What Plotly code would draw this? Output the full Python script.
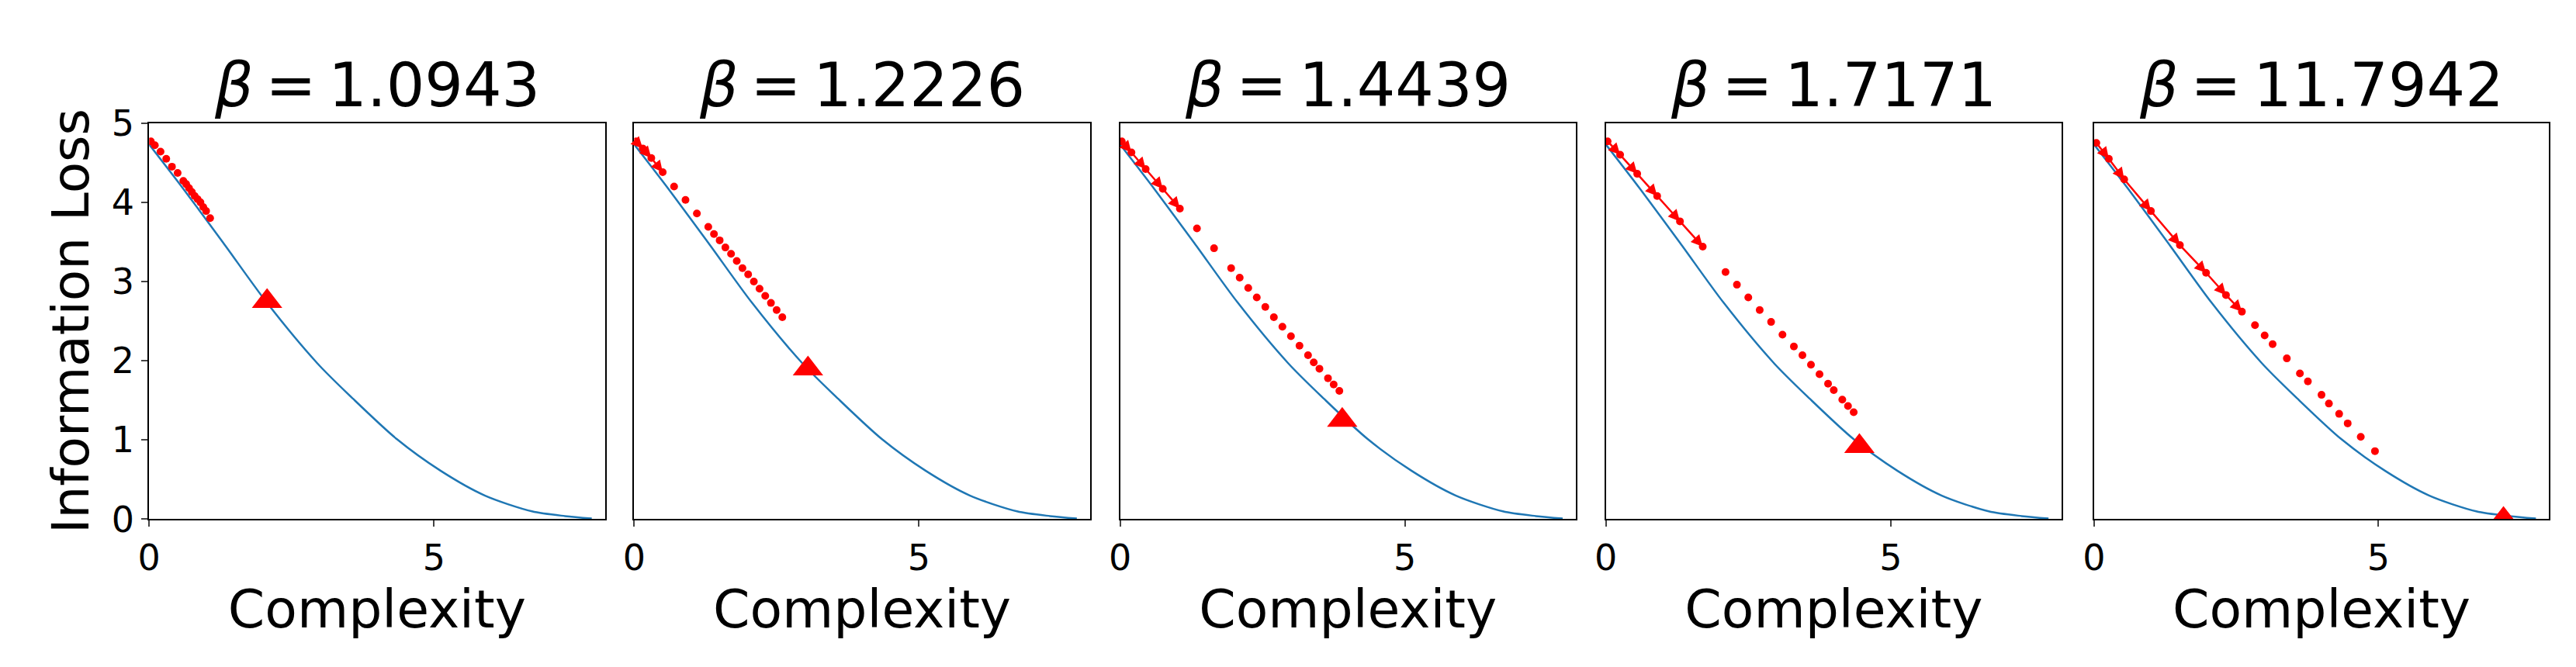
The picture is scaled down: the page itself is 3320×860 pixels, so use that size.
import plotly.graph_objects as go

betas = ["1.0943", "1.2226", "1.4439", "1.7171", "11.7942"]
curve_x = [0.0, 0.6, 1.3, 2.07, 2.95, 3.58, 4.35, 5.12, 5.89, 6.72, 7.3, 7.77]
curve_y = [4.73, 4.17, 3.49, 2.73, 1.97, 1.52, 1.01, 0.61, 0.30, 0.10, 0.04, 0.01]
tri_x = [2.07, 3.05, 3.9, 4.45, 7.2]
tri_y = [2.75, 1.9, 1.25, 0.92, 0.05]
tri_size = [34, 34, 34, 34, 24]
traj_x = [
    [0.03, 0.1, 0.2, 0.3, 0.4, 0.5, 0.6, 0.65, 0.7, 0.75, 0.8, 0.85, 0.9, 0.95, 1.0, 1.07],
    [0.03, 0.15, 0.3, 0.5, 0.7, 0.9, 1.1, 1.3, 1.4, 1.5, 1.6, 1.7, 1.8, 1.9, 2.0, 2.1, 2.2, 2.3, 2.4, 2.5, 2.6],
    [0.03, 0.2, 0.45, 0.75, 1.05, 1.35, 1.65, 1.95, 2.1, 2.25, 2.4, 2.55, 2.7, 2.85, 3.0, 3.15, 3.3, 3.4, 3.5, 3.65, 3.75, 3.85],
    [0.03, 0.25, 0.55, 0.9, 1.3, 1.7, 2.1, 2.3, 2.5, 2.7, 2.9, 3.1, 3.3, 3.45, 3.6, 3.75, 3.9, 4.0, 4.15, 4.25, 4.35],
    [0.04, 0.26, 0.53, 1.0, 1.51, 1.97, 2.32, 2.6, 2.83, 3.0, 3.14, 3.39, 3.62, 3.76, 4.0, 4.13, 4.31, 4.46, 4.69, 4.94],
]
traj_y = [
    [4.77, 4.72, 4.64, 4.55, 4.45, 4.37, 4.27, 4.23, 4.18, 4.13, 4.08, 4.04, 4.0, 3.94, 3.89, 3.8],
    [4.77, 4.68, 4.56, 4.38, 4.2, 4.03, 3.86, 3.69, 3.6, 3.52, 3.43, 3.35, 3.26, 3.17, 3.09, 3.0, 2.91, 2.82, 2.73, 2.64, 2.55],
    [4.77, 4.63, 4.42, 4.17, 3.92, 3.67, 3.42, 3.17, 3.05, 2.92, 2.8, 2.68, 2.55, 2.43, 2.31, 2.19, 2.07, 1.98, 1.9, 1.78, 1.7, 1.62],
    [4.77, 4.6, 4.36, 4.08, 3.76, 3.44, 3.12, 2.96, 2.8, 2.64, 2.49, 2.33, 2.18, 2.07, 1.95, 1.83, 1.71, 1.63, 1.51, 1.43, 1.35],
    [4.75, 4.55, 4.29, 3.89, 3.46, 3.11, 2.83, 2.62, 2.45, 2.32, 2.21, 2.03, 1.84, 1.74, 1.57, 1.46, 1.33, 1.21, 1.04, 0.86],
]
arrow_counts = [0, 3, 4, 5, 7]

W, H = 3320, 860
px = [(170, 760), (798, 1388), (1427, 2017), (2056, 2646), (2688, 3277)]
top, bot = 132, 677

fig = go.Figure()
anns = []
font = "DejaVu Sans"
for i in range(5):
    ax = "" if i == 0 else str(i + 1)
    xa, ya = "x" + ax, "y" + ax
    fig.add_trace(go.Scatter(x=curve_x, y=curve_y, mode="lines", line=dict(color="#1f77b4", width=2.5, shape="spline", smoothing=0.8),
                             xaxis=xa, yaxis=ya, showlegend=False))
    fig.add_trace(go.Scatter(x=traj_x[i], y=traj_y[i], mode="markers", marker=dict(color="red", size=10),
                             xaxis=xa, yaxis=ya, showlegend=False))
    fig.add_trace(go.Scatter(x=[tri_x[i]], y=[tri_y[i]], mode="markers",
                             marker=dict(color="red", size=tri_size[i], symbol="triangle-up"),
                             xaxis=xa, yaxis=ya, showlegend=False))
    for k in range(arrow_counts[i]):
        anns.append(dict(x=traj_x[i][k + 1], y=traj_y[i][k + 1], ax=traj_x[i][k], ay=traj_y[i][k],
                         xref=xa, yref=ya, axref=xa, ayref=ya, showarrow=True, arrowhead=2,
                         arrowsize=1.2, arrowwidth=2.5, arrowcolor="red", text=""))
    x0, x1 = px[i]
    dom_x = [x0 / W, x1 / W]
    common = dict(showline=True, linecolor="black", linewidth=2, mirror=True, showgrid=False, zeroline=False,
                  ticks="outside", ticklen=8, tickwidth=2, tickfont=dict(size=46, family=font, color="black"))
    fig.layout["xaxis" + ax] = dict(domain=dom_x, range=[0, 8.0], tickvals=[0, 5], anchor=ya,
                                     title=dict(text="Complexity", font=dict(size=68, family=font, color="black"), standoff=8),
                                     **common)
    yd = dict(domain=[1 - bot / H, 1 - top / H], range=[0, 5], anchor=xa, **common)
    if i == 0:
        yd.update(tickvals=[0, 1, 2, 3, 4, 5],
                  title=dict(text="Information Loss", font=dict(size=66, family=font, color="black"), standoff=8))
    else:
        yd.update(tickvals=[], ticks="")
    fig.layout["yaxis" + ax] = yd
    anns.append(dict(x=(x0 + x1) / 2 / W, y=1 - top / H, xref="paper", yref="paper", xanchor="center", yanchor="bottom",
                     yshift=2, showarrow=False, text="<i>β</i>\u2009=\u2009" + betas[i],
                     font=dict(size=78, family=font, color="black")))

fig.update_layout(width=W, height=H, margin=dict(l=0, r=0, t=0, b=0), paper_bgcolor="white",
                  plot_bgcolor="white", annotations=anns)
fig.write_html("out.html")
